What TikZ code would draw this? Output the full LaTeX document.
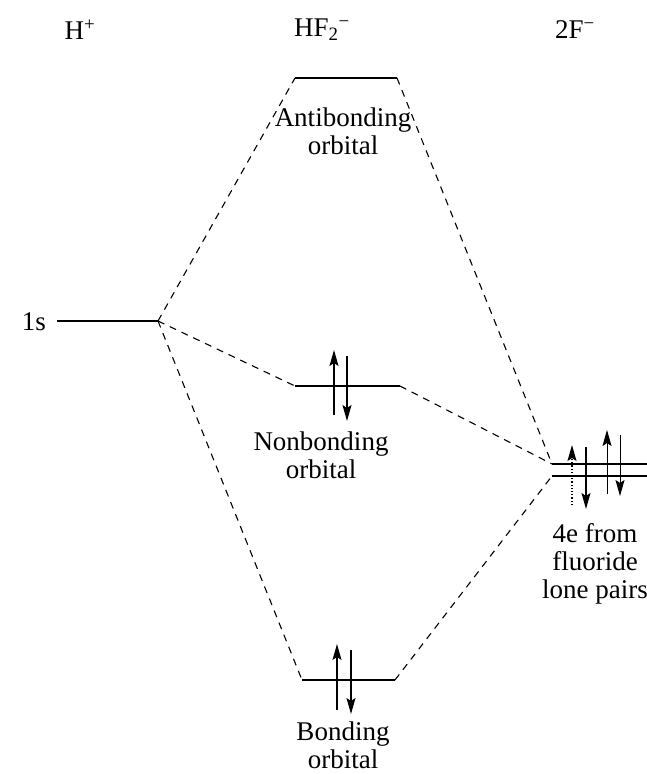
\documentclass[tikz,border=0pt]{standalone}
\usepackage{fontspec}
\setmainfont{Liberation Serif}
\usetikzlibrary{arrows.meta}
\begin{document}
\begin{tikzpicture}[x=1pt,y=-1pt,
  lbl/.style={font=\fontsize{27}{28}\selectfont, inner sep=0pt, align=center},
  level/.style={line width=1.3pt},
  conn/.style={dashed, dash pattern=on 7pt off 6pt, line width=1.1pt},
  spin/.style={line width=1.2pt, -{Stealth[length=16pt,width=9pt,inset=3pt]}},
  spindot/.style={line width=1.2pt, dotted, -{Stealth[length=16pt,width=9pt,inset=3pt]}}]
\useasboundingbox (0,0) rectangle (647,774);
% headings
\node[lbl] (tH) at (80,30) {H\textsuperscript{+}};
\node[lbl] (tHF) at (322,30) {HF\textsubscript{2}\textsuperscript{−}};
\node[lbl] (tF) at (575,30) {2F\textsuperscript{−}};
% H 1s
\node[lbl] (t1s) at (34,322) {1s};
\coordinate (hL) at (57,321);
\coordinate (hR) at (158,321);
\draw[level] (hL) -- (hR);
% antibonding
\coordinate (aL) at (295,78);
\coordinate (aR) at (397,78);
\draw[level] (aL) -- (aR);
\node[lbl] (tA) at (343,131) {Antibonding\\orbital};
% nonbonding
\coordinate (nL) at (295,386);
\coordinate (nR) at (400,386);
\draw[level] (nL) -- (nR);
\node[lbl] (tN) at (321,455) {Nonbonding\\orbital};
% bonding
\coordinate (bL) at (302,680);
\coordinate (bR) at (395,680);
\draw[level] (bL) -- (bR);
\node[lbl] (tB) at (343,745) {Bonding\\orbital};
% fluoride levels
\coordinate (fL1) at (552,464);
\coordinate (fR1) at (647,464);
\coordinate (fL2) at (552,476);
\coordinate (fR2) at (647,476);
\draw[level] (fL1) -- (fR1);
\draw[level] (fL2) -- (fR2);
\node[lbl] (tF4) at (595,564) {4e from\\fluoride\\lone pairs};
% correlation lines
\draw[conn] (hR) -- (aL);
\draw[conn] (hR) -- (nL);
\draw[conn] (hR) -- (bL);
\draw[conn] (aR) -- (fL1);
\draw[conn] (nR) -- (fL1);
\draw[conn] (bR) -- (fL2);
% electrons
\coordinate (n1a) at (334,415); \coordinate (n1b) at (334,350);
\coordinate (n2a) at (347,356); \coordinate (n2b) at (347,421);
\draw[spin] (n1a) -- (n1b);
\draw[spin] (n2a) -- (n2b);
\coordinate (b1a) at (337,710); \coordinate (b1b) at (337,644);
\coordinate (b2a) at (351,650); \coordinate (b2b) at (351,714);
\draw[spin] (b1a) -- (b1b);
\draw[spin] (b2a) -- (b2b);
\coordinate (f1a) at (572,505); \coordinate (f1b) at (572,445);
\coordinate (f2a) at (586,447); \coordinate (f2b) at (586,509);
\coordinate (f3a) at (607,494); \coordinate (f3b) at (607,430);
\coordinate (f4a) at (620,435); \coordinate (f4b) at (620,496);
\draw[spindot] (f1a) -- (f1b);
\draw[spin] (f2a) -- (f2b);
\draw[spin,line width=0.9pt] (f3a) -- (f3b);
\draw[spin,line width=0.9pt] (f4a) -- (f4b);
\end{tikzpicture}
\end{document}
